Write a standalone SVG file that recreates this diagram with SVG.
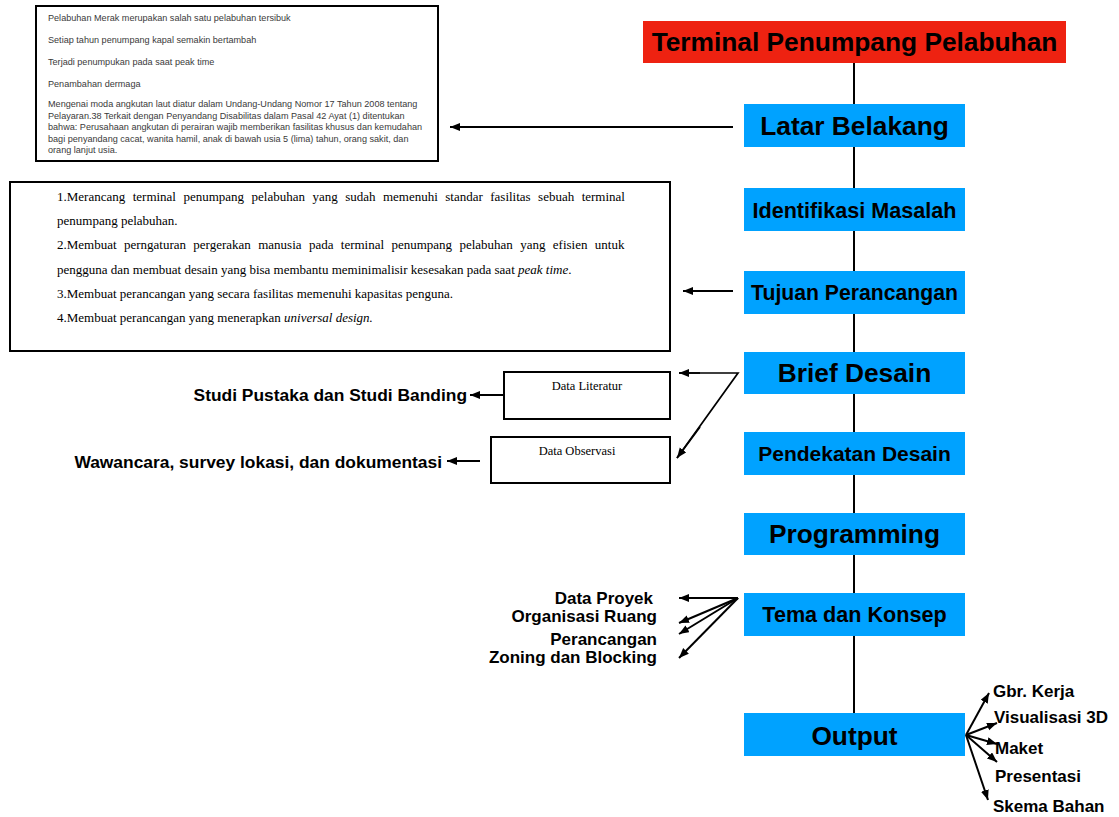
<svg xmlns="http://www.w3.org/2000/svg" width="1119" height="817" viewBox="0 0 1119 817">
<defs>
<marker id="ah" markerUnits="userSpaceOnUse" markerWidth="11" markerHeight="9" refX="10" refY="4" orient="auto">
<path d="M0,0 L10,4 L0,8 Z" fill="#000"/>
</marker>
<style>
.blue{fill:#00a2ff}
.red{fill:#ee2211}
.hb{font-family:"Liberation Sans",Arial,sans-serif;font-weight:bold;fill:#000}
.big{font-size:26.3px;text-anchor:middle}
.mid{font-size:21.6px;text-anchor:middle}
.lbl{font-size:17.4px}
.sl{font-size:17px}
.sm{font-family:"Liberation Sans",Arial,sans-serif;font-size:9.1px;fill:#3a3a3a}
.tm{font-family:"Liberation Serif","Times New Roman",serif;font-size:13px;fill:#000}
.box{fill:#fff;stroke:#000;stroke-width:2}
.c{stroke:#000;stroke-width:2;fill:none}
.ca{stroke:#000;stroke-width:2;fill:none;marker-end:url(#ah)}
</style>
</defs>
<rect width="1119" height="817" fill="#fff"/>
<g id="connectors">
<line class="c" x1="854" y1="63" x2="854" y2="713"/>
<line class="ca" x1="733" y1="127" x2="450" y2="127"/>
<line class="ca" x1="733" y1="291" x2="683" y2="291"/>
<polyline class="c" points="679,373 738,373 677,458" style="stroke-width:1.7"/>
<line class="ca" x1="700" y1="373" x2="679" y2="373" style="stroke-width:1.7"/>
<line class="ca" x1="700" y1="427" x2="677" y2="458" style="stroke-width:1.7"/>
<line class="ca" x1="503" y1="395" x2="470" y2="395"/>
<line class="ca" x1="480" y1="461" x2="447" y2="461"/>
<line class="ca" x1="738" y1="598" x2="679" y2="598"/>
<line class="ca" x1="738" y1="598" x2="679" y2="623"/>
<line class="ca" x1="738" y1="598" x2="679" y2="634"/>
<line class="ca" x1="738" y1="598" x2="679" y2="658"/>
<line class="ca" x1="966" y1="735" x2="989" y2="693"/>
<line class="ca" x1="966" y1="735" x2="997" y2="723"/>
<line class="ca" x1="966" y1="735" x2="997" y2="744"/>
<line class="ca" x1="966" y1="735" x2="997" y2="762"/>
<line class="ca" x1="966" y1="735" x2="988" y2="800"/>
</g>
<g id="title">
<rect class="red" x="643" y="21" width="423" height="42"/>
<text class="hb big" x="854.5" y="50.5">Terminal Penumpang Pelabuhan</text>
</g>
<g id="latar-belakang">
<rect class="blue" x="744" y="104" width="221" height="43"/>
<text class="hb big" x="854.5" y="135">Latar Belakang</text>
</g>
<g id="identifikasi-masalah">
<rect class="blue" x="744" y="188" width="221" height="43"/>
<text class="hb mid" x="854.5" y="217.5">Identifikasi Masalah</text>
</g>
<g id="tujuan-perancangan">
<rect class="blue" x="744" y="271" width="221" height="43"/>
<text class="hb mid" x="854.5" y="300" style="font-size:21.2px">Tujuan Perancangan</text>
</g>
<g id="brief-desain">
<rect class="blue" x="744" y="352" width="221" height="42"/>
<text class="hb big" x="854.5" y="381.5">Brief Desain</text>
</g>
<g id="pendekatan-desain">
<rect class="blue" x="744" y="432" width="221" height="43"/>
<text class="hb mid" x="854.5" y="461" style="font-size:21px">Pendekatan Desain</text>
</g>
<g id="programming">
<rect class="blue" x="744" y="513" width="221" height="42"/>
<text class="hb big" x="854.5" y="542.5">Programming</text>
</g>
<g id="tema-konsep">
<rect class="blue" x="744" y="593" width="221" height="43"/>
<text class="hb mid" x="854.5" y="621.5">Tema dan Konsep</text>
</g>
<g id="output">
<rect class="blue" x="744" y="713" width="221" height="43"/>
<text class="hb big" x="854.5" y="744.5">Output</text>
</g>
<g id="latar-text">
<rect class="box" x="36" y="6" width="402" height="155"/>
<text class="sm" x="48" y="21">Pelabuhan Merak merupakan salah satu pelabuhan tersibuk</text>
<text class="sm" x="48" y="43">Setiap tahun penumpang kapal semakin bertambah</text>
<text class="sm" x="48" y="65">Terjadi penumpukan pada saat peak time</text>
<text class="sm" x="48" y="87">Penambahan dermaga</text>
<text class="sm" x="48" y="107">Mengenai moda angkutan laut diatur dalam Undang-Undang Nomor 17 Tahun 2008 tentang</text>
<text class="sm" x="48" y="118.5">Pelayaran.38 Terkait dengan Penyandang Disabilitas dalam Pasal 42 Ayat (1) ditentukan</text>
<text class="sm" x="48" y="130">bahwa: Perusahaan angkutan di perairan wajib memberikan fasilitas khusus dan kemudahan</text>
<text class="sm" x="48" y="141.5">bagi penyandang cacat, wanita hamil, anak di bawah usia 5 (lima) tahun, orang sakit, dan</text>
<text class="sm" x="48" y="153">orang lanjut usia.</text>
</g>
<g id="tujuan-text">
<rect class="box" x="10" y="182" width="660" height="169"/>
<text class="tm" x="57" y="201" word-spacing="4.2">1.Merancang terminal penumpang pelabuhan yang sudah memenuhi standar fasilitas sebuah terminal</text>
<text class="tm" x="57" y="225">penumpang pelabuhan.</text>
<text class="tm" x="57" y="249" word-spacing="4.1">2.Membuat perngaturan pergerakan manusia pada terminal penumpang pelabuhan yang efisien untuk</text>
<text class="tm" x="57" y="274">pengguna dan membuat desain yang bisa membantu meminimalisir kesesakan pada saat <tspan font-style="italic">peak time</tspan>.</text>
<text class="tm" x="57" y="298">3.Membuat perancangan yang secara fasilitas memenuhi kapasitas penguna.</text>
<text class="tm" x="57" y="322">4.Membuat perancangan yang menerapkan <tspan font-style="italic">universal design.</tspan></text>
</g>
<g id="data-literatur">
<rect class="box" x="504" y="372" width="166" height="47"/>
<text class="tm" x="587" y="390" text-anchor="middle" style="font-size:12.5px">Data Literatur</text>
</g>
<g id="data-observasi">
<rect class="box" x="491" y="437" width="179" height="46"/>
<text class="tm" x="577" y="455" text-anchor="middle" style="font-size:12.5px">Data Observasi</text>
</g>
<g id="studi-pustaka">
<text class="hb lbl" x="467" y="400.5" text-anchor="end">Studi Pustaka dan Studi Banding</text>
</g>
<g id="wawancara">
<text class="hb lbl" x="442" y="467.5" text-anchor="end">Wawancara, survey lokasi, dan dokumentasi</text>
</g>
<g id="tema-items">
<text class="hb sl" x="653" y="604" text-anchor="end">Data Proyek</text>
<text class="hb sl" x="657" y="621.5" text-anchor="end">Organisasi Ruang</text>
<text class="hb sl" x="657" y="645" text-anchor="end">Perancangan</text>
<text class="hb sl" x="657" y="662.5" text-anchor="end">Zoning dan Blocking</text>
</g>
<g id="output-items">
<text class="hb sl" x="993" y="697">Gbr. Kerja</text>
<text class="hb sl" x="994" y="723">Visualisasi 3D</text>
<text class="hb sl" x="995" y="754">Maket</text>
<text class="hb sl" x="995" y="782">Presentasi</text>
<text class="hb sl" x="993" y="812">Skema Bahan</text>
</g>
</svg>
